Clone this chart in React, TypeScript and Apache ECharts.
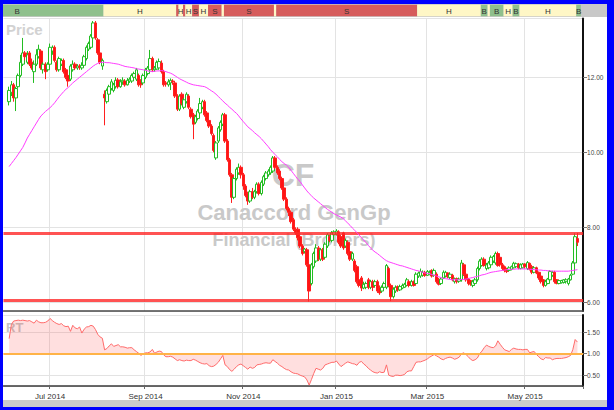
import React, { useEffect, useRef } from "react";
import * as echarts from "echarts";

// ---- Trading calendar (TSX sessions) ----
const FIRST_SESSION = "2014-06-05";
const LAST_SESSION = "2015-06-04";
const MARKET_HOLIDAYS = [
  "2014-07-01", "2014-08-04", "2014-09-01", "2014-10-13", "2014-12-25",
  "2014-12-26", "2015-01-01", "2015-02-16", "2015-04-03", "2015-05-18",
];
const LEAD_SLOTS = 2;
const TRAIL_SLOTS = 2;
const LABEL_MONTHS = [0, 2, 4, 6, 8, 10];
const MONTH_NAMES = ["Jan", "Feb", "Mar", "Apr", "May", "Jun", "Jul", "Aug", "Sep", "Oct", "Nov", "Dec"];

// ---- Daily candles: [open, close, low, high] ----
const candlesJunAug = [
  [11.35, 11.65, 11.25, 11.75], [11.6, 11.8, 11.5, 11.9], [11.8, 11.45, 11.35, 11.85], [11.45, 11.7, 11.1, 11.75], [11.75, 12.05, 11.7, 12.1],
  [12.05, 12.4, 12.0, 12.6], [12.35, 12.65, 12.3, 13.05], [12.65, 12.55, 12.45, 12.7], [12.4, 12.6, 12.35, 12.7], [12.65, 12.35, 12.3, 12.7],
  [12.4, 12.25, 12.2, 12.5], [12.15, 12.35, 11.85, 12.45], [12.35, 12.6, 12.3, 12.75], [12.55, 12.75, 12.5, 12.87], [12.7, 12.25, 12.2, 12.75],
  [12.2, 12.35, 12.1, 12.4], [12.35, 12.15, 11.95, 12.4], [12.2, 12.35, 12.15, 12.4], [12.35, 12.8, 12.3, 12.9], [12.7, 12.8, 12.6, 12.85],
  [12.8, 12.45, 12.4, 12.85], [12.4, 12.2, 12.15, 12.45], [12.2, 12.5, 12.15, 12.55], [12.35, 12.45, 12.3, 12.5], [12.45, 12.15, 12.1, 12.5],
  [12.2, 12.0, 11.95, 12.25], [12.05, 11.9, 11.75, 12.1], [11.95, 12.3, 11.9, 12.35], [12.2, 12.35, 12.15, 12.45], [12.35, 12.25, 12.2, 12.4],
  [12.25, 12.3, 12.2, 12.35], [12.3, 12.27, 12.2, 12.35], [12.25, 12.32, 12.2, 12.4], [12.32, 12.55, 12.3, 12.6], [12.5, 12.8, 12.45, 12.85],
  [12.75, 12.9, 12.7, 12.95], [12.8, 13.1, 12.75, 13.15], [13.05, 13.45, 13.0, 13.5], [13.45, 13.05, 13.0, 13.5], [13.0, 12.65, 12.6, 13.05],
  [12.65, 12.4, 12.35, 12.7], [12.3, 12.45, 12.2, 12.5], [11.55, 11.45, 10.72, 11.65], [11.35, 11.65, 11.3, 11.7], [11.55, 11.75, 11.5, 11.8],
  [11.7, 11.88, 11.65, 11.95], [11.65, 11.8, 11.6, 11.85], [11.75, 11.92, 11.7, 12.0], [11.93, 11.75, 11.7, 11.98], [11.75, 11.88, 11.72, 11.95],
  [11.88, 11.92, 11.8, 12.0], [11.9, 11.8, 11.75, 11.95], [11.8, 11.92, 11.78, 11.98], [11.9, 11.95, 11.85, 12.0], [11.9, 12.05, 11.85, 12.1],
  [12.0, 12.1, 11.95, 12.15], [11.95, 12.2, 11.9, 12.25], [12.05, 11.8, 11.75, 12.1], [11.9, 11.8, 11.72, 11.95], [11.85, 12.05, 11.8, 12.1],
];
const candlesSepOct = [
  [12.0, 12.2, 11.95, 12.25], [12.1, 12.25, 12.05, 12.3], [12.2, 12.5, 12.15, 12.73], [12.5, 12.2, 12.15, 12.55], [12.2, 12.25, 12.15, 12.3],
  [12.22, 12.4, 12.2, 12.45], [12.25, 12.42, 12.2, 12.5], [12.38, 12.15, 12.1, 12.45], [12.15, 11.8, 11.75, 12.2], [11.85, 11.82, 11.75, 11.9],
  [11.8, 11.88, 11.75, 11.95], [11.85, 11.92, 11.66, 11.97], [11.9, 11.88, 11.8, 11.95], [11.85, 11.5, 11.45, 11.9], [11.5, 11.15, 11.1, 11.55],
  [11.15, 11.5, 11.1, 11.55], [11.55, 11.3, 11.25, 11.6], [11.2, 11.4, 11.15, 11.45], [11.35, 11.55, 11.3, 11.6], [11.5, 11.2, 11.15, 11.55],
  [11.15, 10.95, 10.9, 11.2], [11.0, 10.75, 10.35, 11.05], [10.8, 10.95, 10.75, 11.0], [10.9, 11.1, 10.85, 11.15], [11.05, 11.3, 11.0, 11.45],
  [11.2, 11.35, 11.15, 11.4], [11.35, 11.0, 10.95, 11.4], [11.05, 10.85, 10.8, 11.1], [10.85, 10.7, 10.65, 10.9], [10.7, 10.5, 10.45, 10.75],
  [10.45, 10.05, 10.0, 10.5], [9.85, 10.25, 9.8, 10.3], [10.3, 10.65, 10.25, 10.7], [10.6, 10.8, 10.55, 10.85], [10.75, 11.0, 10.7, 11.05],
  [11.0, 10.3, 10.25, 11.05], [10.3, 9.8, 9.75, 10.35], [9.8, 9.4, 9.35, 9.85], [9.4, 8.8, 8.65, 9.45], [8.8, 9.3, 8.75, 9.35],
  [9.3, 9.55, 9.25, 9.6], [9.45, 9.6, 9.4, 9.7], [9.6, 9.4, 9.3, 9.65],
];
const candlesNovDec = [
  [9.4, 9.1, 9.0, 9.45], [9.1, 8.85, 8.8, 9.15], [8.9, 8.7, 8.6, 8.95], [8.7, 8.95, 8.65, 9.0], [8.95, 8.8, 8.75, 9.05],
  [8.8, 8.95, 8.75, 9.0], [8.95, 9.15, 8.9, 9.2], [9.15, 8.9, 8.85, 9.2], [8.9, 9.2, 8.85, 9.25], [9.15, 9.35, 9.1, 9.4],
  [9.3, 9.45, 9.25, 9.5], [9.4, 9.5, 9.35, 9.55], [9.45, 9.6, 9.4, 9.65], [9.5, 9.85, 9.45, 9.9], [9.85, 9.6, 9.55, 9.9],
  [9.6, 9.45, 9.4, 9.65], [9.5, 9.3, 9.25, 9.55], [9.3, 9.05, 9.0, 9.35], [9.05, 8.75, 8.7, 9.1], [8.75, 8.5, 8.45, 8.8],
  [8.5, 8.4, 8.3, 8.55], [8.4, 8.15, 8.1, 8.45], [8.2, 7.95, 7.9, 8.25], [7.95, 7.85, 7.8, 8.0], [7.95, 7.72, 7.65, 8.0],
  [7.75, 7.5, 7.45, 7.8], [7.5, 7.3, 7.25, 7.55], [7.35, 7.42, 7.3, 7.45], [7.4, 7.0, 6.95, 7.45], [7.0, 6.3, 6.02, 7.05],
  [6.5, 7.0, 6.45, 7.05], [6.95, 7.3, 6.9, 7.35], [7.1, 7.45, 7.05, 7.55], [7.45, 7.15, 7.1, 7.5], [7.15, 7.4, 7.1, 7.45],
  [7.4, 7.15, 7.1, 7.45], [7.2, 7.55, 7.15, 7.6], [7.5, 7.8, 7.45, 7.85], [7.75, 7.65, 7.6, 7.8], [7.65, 7.85, 7.6, 7.9],
  [7.8, 7.88, 7.75, 7.92],
];
const candlesJanFeb = [
  [7.82, 7.9, 7.78, 7.95], [7.88, 7.6, 7.55, 7.92], [7.75, 7.5, 7.45, 7.8], [7.85, 7.45, 7.4, 7.88], [7.5, 7.65, 7.45, 7.7],
  [7.6, 7.3, 7.25, 7.65], [7.35, 7.15, 7.1, 7.4], [7.15, 7.3, 7.1, 7.35], [7.1, 6.85, 6.8, 7.15], [6.95, 6.55, 6.5, 7.0],
  [6.6, 6.45, 6.4, 6.65], [6.65, 6.38, 6.3, 6.7], [6.38, 6.48, 6.35, 6.55], [6.4, 6.5, 6.35, 6.55], [6.6, 6.4, 6.35, 6.65],
  [6.4, 6.55, 6.35, 6.6], [6.55, 6.4, 6.3, 6.6], [6.45, 6.55, 6.4, 6.6], [6.55, 6.3, 6.25, 6.6], [6.4, 6.25, 6.2, 6.45],
  [6.3, 6.4, 6.25, 6.45], [6.4, 6.5, 6.35, 6.55], [6.4, 6.98, 6.35, 7.02], [6.9, 6.45, 6.4, 6.95], [6.45, 6.15, 6.03, 6.5],
  [6.15, 6.35, 6.1, 6.4], [6.3, 6.4, 6.25, 6.45], [6.42, 6.33, 6.28, 6.45], [6.33, 6.42, 6.3, 6.47], [6.38, 6.45, 6.35, 6.5],
  [6.4, 6.48, 6.38, 6.52], [6.45, 6.6, 6.42, 6.65], [6.55, 6.45, 6.4, 6.6], [6.45, 6.55, 6.42, 6.6], [6.55, 6.45, 6.42, 6.58],
  [6.5, 6.75, 6.48, 6.8], [6.7, 6.78, 6.65, 6.82], [6.7, 6.82, 6.65, 6.9], [6.72, 6.8, 6.68, 6.85], [6.8, 6.72, 6.68, 6.84],
];
const candlesMarJun = [
  [6.72, 6.82, 6.7, 6.86], [6.75, 6.8, 6.72, 6.85], [6.85, 6.7, 6.66, 6.88], [6.72, 6.85, 6.68, 6.9], [6.75, 6.55, 6.5, 6.8],
  [6.6, 6.48, 6.45, 6.65], [6.5, 6.62, 6.46, 6.66], [6.65, 6.8, 6.62, 6.85], [6.7, 6.8, 6.66, 6.84], [6.78, 6.68, 6.64, 6.8],
  [6.66, 6.75, 6.62, 6.8], [6.72, 6.6, 6.56, 6.76], [6.55, 6.63, 6.5, 6.66], [6.63, 6.55, 6.5, 6.66], [6.56, 6.62, 6.52, 6.66],
  [6.6, 7.05, 6.55, 7.13], [7.0, 6.75, 6.7, 7.05], [6.75, 6.6, 6.55, 6.78], [6.62, 6.5, 6.45, 6.65], [6.58, 6.48, 6.44, 6.6],
  [6.45, 6.55, 6.4, 6.6], [6.5, 6.6, 6.45, 6.65], [6.6, 6.9, 6.55, 6.95], [6.9, 7.1, 6.85, 7.15], [6.98, 7.15, 6.95, 7.2],
  [7.15, 6.98, 6.95, 7.2], [6.9, 7.0, 6.85, 7.05], [6.92, 7.05, 6.88, 7.1], [7.0, 7.2, 6.95, 7.25], [7.1, 7.22, 7.05, 7.26],
  [7.05, 7.3, 7.0, 7.35], [7.3, 6.98, 6.95, 7.35], [7.2, 7.0, 6.95, 7.25], [7.0, 6.9, 6.85, 7.05], [6.95, 6.85, 6.8, 6.98],
  [6.9, 6.82, 6.78, 6.92], [6.85, 6.92, 6.82, 6.96], [6.88, 6.95, 6.85, 6.98], [6.92, 7.04, 6.9, 7.08], [6.95, 7.03, 6.92, 7.06],
  [7.02, 6.92, 6.88, 7.05], [6.9, 7.0, 6.88, 7.04], [6.92, 7.02, 6.9, 7.05], [7.02, 6.95, 6.9, 7.04], [6.9, 7.06, 6.86, 7.1],
  [7.04, 6.88, 6.85, 7.06], [6.95, 6.8, 6.75, 7.0], [6.8, 6.92, 6.77, 6.96], [6.92, 6.78, 6.75, 6.95], [6.8, 6.65, 6.6, 6.82],
  [6.7, 6.55, 6.5, 6.72], [6.6, 6.45, 6.4, 6.62], [6.45, 6.55, 6.42, 6.6], [6.5, 6.62, 6.48, 6.65], [6.6, 6.82, 6.57, 6.86],
  [6.72, 6.8, 6.68, 6.84], [6.8, 6.55, 6.5, 6.84], [6.6, 6.5, 6.48, 6.62], [6.5, 6.58, 6.48, 6.6], [6.52, 6.58, 6.5, 6.6],
  [6.53, 6.6, 6.5, 6.62], [6.55, 6.6, 6.5, 6.64], [6.5, 6.62, 6.45, 6.65], [6.6, 6.72, 6.58, 6.76], [6.75, 7.05, 6.72, 7.1],
  [7.05, 7.75, 7.0, 7.84], [7.7, 7.6, 7.5, 7.85],
];

// ---- Moving average of price ----
const movingAvg2014 = [
  9.62, 9.70, 9.78, 9.86, 9.95, 10.04, 10.13, 10.25, 10.38, 10.48,
  10.58, 10.68, 10.78, 10.88, 10.97, 11.03, 11.09, 11.14, 11.19, 11.25,
  11.32, 11.40, 11.48, 11.55, 11.62, 11.68, 11.73, 11.79, 11.85, 11.90,
  11.95, 12.00, 12.05, 12.10, 12.15, 12.20, 12.25, 12.30, 12.34, 12.37,
  12.40, 12.40, 12.40, 12.39, 12.39, 12.38, 12.37, 12.36, 12.35, 12.33,
  12.31, 12.29, 12.28, 12.27, 12.26, 12.25, 12.23, 12.22, 12.21, 12.20,
  12.19, 12.17, 12.16, 12.15, 12.16, 12.17, 12.17, 12.18, 12.17, 12.15,
  12.13, 12.11, 12.08, 12.04, 12.00, 11.96, 11.93, 11.90, 11.87, 11.84,
  11.82, 11.80, 11.79, 11.78, 11.77, 11.76, 11.75, 11.72, 11.68, 11.64,
  11.60, 11.55, 11.49, 11.43, 11.37, 11.31, 11.26, 11.20, 11.15, 11.09,
  11.04, 10.97, 10.89, 10.82, 10.75, 10.68, 10.63, 10.58, 10.52, 10.47,
  10.42, 10.36, 10.29, 10.22, 10.15, 10.07, 10.00, 9.94, 9.88, 9.81,
  9.75, 9.70, 9.66, 9.60, 9.52, 9.44, 9.36, 9.28, 9.22, 9.13,
  9.05, 8.97, 8.90, 8.84, 8.78, 8.73, 8.68, 8.63, 8.58, 8.53,
  8.48, 8.44, 8.40, 8.36,
];
const movingAvg2015 = [
  8.33, 8.30, 8.27, 8.23, 8.17, 8.11,
  8.05, 7.98, 7.92, 7.86, 7.79, 7.72, 7.66, 7.59, 7.52, 7.45,
  7.39, 7.34, 7.30, 7.25, 7.20, 7.15, 7.11, 7.08, 7.06, 7.04,
  7.02, 7.00, 6.98, 6.97, 6.95, 6.93, 6.91, 6.89, 6.87, 6.85,
  6.84, 6.82, 6.80, 6.78, 6.77, 6.76, 6.74, 6.72, 6.70, 6.68,
  6.66, 6.64, 6.63, 6.62, 6.61, 6.60, 6.60, 6.60, 6.60, 6.61,
  6.61, 6.62, 6.63, 6.65, 6.66, 6.68, 6.69, 6.71, 6.73, 6.74,
  6.76, 6.78, 6.80, 6.81, 6.82, 6.83, 6.84, 6.85, 6.86, 6.87,
  6.88, 6.88, 6.88, 6.89, 6.89, 6.89, 6.89, 6.89, 6.89, 6.88,
  6.88, 6.87, 6.87, 6.86, 6.86, 6.85, 6.85, 6.84, 6.84, 6.83,
  6.83, 6.83, 6.83, 6.83, 6.83, 6.83, 6.83, 6.84, 6.85, 6.86, 6.87,
];

// ---- Relative strength (RT) ----
const relative2014 = [
  1.35, 1.68, 1.76, 1.77, 1.78, 1.77, 1.78, 1.77, 1.76, 1.77,
  1.74, 1.71, 1.78, 1.74, 1.72, 1.72, 1.73, 1.76, 1.82, 1.77,
  1.73, 1.70, 1.68, 1.70, 1.65, 1.63, 1.64, 1.52, 1.66, 1.60,
  1.58, 1.62, 1.48, 1.57, 1.62, 1.63, 1.66, 1.64, 1.56, 1.45,
  1.39, 1.36, 1.09, 1.12, 1.18, 1.23, 1.17, 1.19, 1.21, 1.16,
  1.16, 1.15, 1.13, 1.14, 1.14, 1.09, 1.05, 1.01, 0.96, 1.00,
  1.02, 1.02, 1.04, 1.10, 1.01, 1.04, 1.06, 1.05, 0.97, 0.93,
  0.93, 0.94, 0.92, 0.88, 0.84, 0.86, 0.84, 0.83, 0.85, 0.84,
  0.84, 0.87, 0.85, 0.82, 0.79, 0.77, 0.76, 0.77, 0.72, 0.70,
  0.71, 0.75, 0.80, 0.88, 0.96, 0.74, 0.70, 0.63, 0.59, 0.64,
  0.70, 0.74, 0.76, 0.72, 0.68, 0.64, 0.69, 0.66, 0.68, 0.74,
  0.75, 0.76, 0.78, 0.79, 0.78, 0.78, 0.86, 0.82, 0.78, 0.73,
  0.70, 0.66, 0.63, 0.62, 0.58, 0.55, 0.54, 0.53, 0.50, 0.48,
  0.46, 0.39, 0.27, 0.40, 0.54, 0.66, 0.64, 0.62, 0.66, 0.74,
  0.76, 0.78, 0.80, 0.80,
];
const relative2015 = [
  0.83, 0.76, 0.70, 0.74, 0.78, 0.81,
  0.79, 0.77, 0.76, 0.73, 0.80, 0.82, 0.76, 0.72, 0.66, 0.62,
  0.58, 0.56, 0.55, 0.58, 0.56, 0.57, 0.74, 0.50, 0.48, 0.47,
  0.50, 0.50, 0.49, 0.50, 0.52, 0.58, 0.60, 0.60, 0.70, 0.80,
  0.81, 0.81, 0.83, 0.85, 0.88, 0.92, 0.95, 0.98, 0.95, 0.92,
  0.88, 0.86, 0.89, 0.91, 0.92, 0.90, 0.87, 0.89, 0.92, 1.00,
  1.02, 0.98, 0.93, 0.87, 0.84, 0.86, 0.90, 1.00, 1.06, 1.14,
  1.20, 1.17, 1.15, 1.14, 1.18, 1.30, 1.22, 1.15, 1.09, 1.07,
  1.05, 1.10, 1.13, 1.11, 1.10, 1.10, 1.09, 1.10, 1.10, 1.02,
  1.04, 1.05, 0.98, 0.93, 0.88, 0.86, 0.91, 0.90, 0.90, 0.86,
  0.88, 0.89, 0.89, 0.89, 0.90, 0.91, 0.93, 0.96, 1.10, 1.33, 1.27,
];
const RELATIVE_BASE = 1;

// Support / resistance levels
const priceLevels = [7.83, 6.05];

// Signal bands: [first session, session after last, code]; negative = before first plotted session
const signalSpans: [number, number, string][] = [
  [-34, 42, "B"], [42, 74, "H"], [74, 75, "S"], [75, 77, "H"], [77, 78, "S"], [78, 81, "H"],
  [81, 84, "S"], [84, 88, "H"], [88, 94, "S"], [94, 95, "H"], [95, 117, "S"], [117, 118, "H"],
  [118, 180, "S"], [180, 208, "H"], [208, 211, "B"], [211, 212, "H"], [212, 218, "B"],
  [218, 222, "H"], [222, 225, "B"], [225, 250, "H"], [250, 252, "B"],
];
const SIGNAL_COLORS: Record<string, string> = { B: "#8fc08c", H: "#fff7c6", S: "#d65c5c" };

const FONT = "Liberation Sans";
const GRID_LEFT = 3.45;
const GRID_RIGHT = 30.9;

function tradingSessions(): string[] {
  const out: string[] = [];
  const start = Date.parse(FIRST_SESSION + "T00:00:00Z");
  const end = Date.parse(LAST_SESSION + "T00:00:00Z");
  for (let t = start; t <= end; t += 86400000) {
    const d = new Date(t);
    const wd = d.getUTCDay();
    if (wd === 0 || wd === 6) continue;
    const iso = d.toISOString().slice(0, 10);
    if (MARKET_HOLIDAYS.includes(iso)) continue;
    out.push(iso);
  }
  return out;
}

function buildOption() {
  const sessions = tradingSessions();
  const lead = Array.from({ length: LEAD_SLOTS }, (_, k) => `pre${k}`);
  const trail = Array.from({ length: TRAIL_SLOTS }, (_, k) => `post${k}`);
  const categories = [...lead, ...sessions, ...trail];

  const monthMarks = new Set<number>();
  sessions.forEach((d, k) => {
    if (k === 0) return;
    const m = Number(d.slice(5, 7)) - 1;
    if (sessions[k - 1].slice(0, 7) !== d.slice(0, 7) && LABEL_MONTHS.includes(m)) {
      monthMarks.add(k + LEAD_SLOTS);
    }
  });
  const isMark = (index: number) => monthMarks.has(index);

  const candles = [...candlesJunAug, ...candlesSepOct, ...candlesNovDec, ...candlesJanFeb, ...candlesMarJun];
  const movingAvg = [...movingAvg2014, ...movingAvg2015];
  const relative = [...relative2014, ...relative2015];

  const gridLine = { color: "#e3e3e3", width: 1 };

  return {
    animation: false,
    backgroundColor: "#ffffff",
    grid: [
      { left: GRID_LEFT, right: GRID_RIGHT, top: 4.5, height: 12 },
      { left: GRID_LEFT, right: GRID_RIGHT, top: 18.5, height: 292.5 },
      { left: GRID_LEFT, right: GRID_RIGHT, top: 315, height: 71 },
    ],
    xAxis: [
      {
        type: "category", gridIndex: 0, data: categories, boundaryGap: true,
        axisLine: { show: false }, axisTick: { show: false }, axisLabel: { show: false }, splitLine: { show: false },
      },
      {
        type: "category", gridIndex: 1, data: categories, boundaryGap: true,
        axisLine: { show: true, lineStyle: { color: "#4a4a4a", width: 1.5 } },
        axisTick: { show: false }, axisLabel: { show: false },
        splitLine: { show: true, interval: isMark, lineStyle: gridLine },
      },
      {
        type: "category", gridIndex: 2, data: categories, boundaryGap: true,
        axisLine: { show: true, lineStyle: { color: "#3a3a3a", width: 1.5 } },
        axisTick: { show: true, interval: isMark, length: 3, lineStyle: { color: "#666" } },
        axisLabel: {
          show: true, interval: isMark, margin: 6, fontSize: 8, fontFamily: FONT, color: "#333",
          formatter: (v: string) => `${MONTH_NAMES[Number(v.slice(5, 7)) - 1]} ${v.slice(0, 4)}`,
        },
        splitLine: { show: true, interval: isMark, lineStyle: gridLine },
      },
    ],
    yAxis: [
      { type: "value", gridIndex: 0, min: 0, max: 1, show: false },
      {
        type: "value", gridIndex: 1, position: "right", min: 5.768, max: 13.568, splitNumber: 4,
        axisLine: { show: true, lineStyle: { color: "#111", width: 2 } },
        axisTick: { show: true, length: 4, lineStyle: { color: "#777" } },
        axisLabel: {
          show: true, showMinLabel: false, showMaxLabel: false, margin: 4,
          fontSize: 6.5, fontFamily: FONT, color: "#444",
          formatter: (v: number) => v.toFixed(2),
        },
        splitLine: { show: true, lineStyle: gridLine },
      },
      {
        type: "value", gridIndex: 2, position: "right", min: 0.249, max: 1.9, splitNumber: 3,
        axisLine: { show: true, lineStyle: { color: "#111", width: 2 } },
        axisTick: { show: true, length: 4, lineStyle: { color: "#777" } },
        axisLabel: {
          show: true, showMinLabel: false, showMaxLabel: false, margin: 4,
          fontSize: 6.5, fontFamily: FONT, color: "#444",
          formatter: (v: number) => v.toFixed(2),
        },
        splitLine: { show: true, lineStyle: gridLine },
      },
    ],
    series: [
      {
        type: "custom",
        xAxisIndex: 0,
        yAxisIndex: 0,
        clip: true,
        silent: true,
        data: signalSpans.map((s, k) => [s[0] + LEAD_SLOTS, s[1] - 1 + LEAD_SLOTS, k]),
        encode: { x: [0, 1] },
        renderItem: (params: any, api: any) => {
          const k = api.value(2);
          const code = signalSpans[k][2];
          const bw = api.size([1, 0])[0];
          const x0 = api.coord([api.value(0), 0])[0] - bw / 2;
          const x1 = api.coord([api.value(1), 0])[0] + bw / 2;
          const top = params.coordSys.y;
          const h = params.coordSys.height;
          const children: any[] = [
            { type: "rect", shape: { x: x0, y: top, width: x1 - x0, height: h }, style: { fill: SIGNAL_COLORS[code] } },
          ];
          if (x1 - x0 >= 4) {
            children.push({
              type: "text",
              style: {
                text: code, x: (x0 + x1) / 2, y: top + h / 2 + 0.5, align: "center", verticalAlign: "middle",
                fontSize: 8, fontFamily: FONT, fill: "#333",
              },
            });
          }
          return { type: "group", children };
        },
      },
      {
        type: "candlestick",
        xAxisIndex: 1,
        yAxisIndex: 1,
        z: 4,
        barWidth: 3,
        data: candles.map((c, k) => [k + LEAD_SLOTS, c[0], c[1], c[2], c[3]]),
        encode: { x: 0, y: [1, 2, 3, 4] },
        itemStyle: {
          color: "#ffffff", color0: "#ff1414",
          borderColor: "#22bd22", borderColor0: "#ff1f1f", borderWidth: 1,
        },
        markLine: {
          silent: true,
          symbol: "none",
          label: { show: false },
          lineStyle: { color: "rgba(255,40,40,0.8)", width: 3, type: "solid" },
          data: priceLevels.map((v) => ({ yAxis: v })),
        },
      },
      {
        type: "line",
        xAxisIndex: 1,
        yAxisIndex: 1,
        z: 5,
        showSymbol: false,
        symbol: "none",
        data: movingAvg.map((v, k) => [k + LEAD_SLOTS, v]),
        lineStyle: { color: "#ff3cff", width: 1 },
      },
      {
        type: "line",
        xAxisIndex: 2,
        yAxisIndex: 2,
        z: 3,
        showSymbol: false,
        symbol: "none",
        data: relative.map((v, k) => [k + LEAD_SLOTS, v]),
        lineStyle: { color: "#ff6a6a", width: 1 },
        areaStyle: { color: "rgba(255,80,80,0.26)", origin: RELATIVE_BASE },
        markLine: {
          silent: true,
          symbol: "none",
          label: { show: false },
          lineStyle: { color: "#ffb347", width: 2, type: "solid" },
          data: [{ yAxis: RELATIVE_BASE }],
        },
      },
    ],
    graphic: {
      elements: [
        // signal strip backing and bottom strip
        { type: "rect", z: 0, silent: true, shape: { x: 3, y: 4, width: 604, height: 13 }, style: { fill: "#c8c8c8" } },
        { type: "rect", z: 0, silent: true, shape: { x: 3, y: 400, width: 604, height: 7 }, style: { fill: "#cbcbcb" } },
        // panel titles
        {
          type: "text", z: 1, silent: true, x: 6, y: 29,
          style: { text: "Price", fontSize: 15, fontWeight: "bold", fontFamily: FONT, fill: "#d2d2d2", verticalAlign: "middle" },
        },
        {
          type: "text", z: 1, silent: true, x: 6, y: 327,
          style: { text: "RT", fontSize: 13, fontWeight: "bold", fontFamily: FONT, fill: "#c4c4c4", verticalAlign: "middle" },
        },
        // security watermark
        {
          type: "text", z: 1, silent: true, x: 293, y: 175,
          style: { text: "CF", fontSize: 32, fontWeight: "bold", fontFamily: FONT, fill: "#c9c9c9", align: "center", verticalAlign: "middle" },
        },
        {
          type: "text", z: 1, silent: true, x: 294, y: 212,
          style: { text: "Canaccord GenGp", fontSize: 22, fontWeight: "bold", fontFamily: FONT, fill: "#c9c9c9", align: "center", verticalAlign: "middle" },
        },
        {
          type: "text", z: 1, silent: true, x: 294, y: 240,
          style: { text: "Financial (Brokers)", fontSize: 18, fontWeight: "bold", fontFamily: FONT, fill: "#c9c9c9", align: "center", verticalAlign: "middle" },
        },
        // frame
        { type: "rect", z: 100, silent: true, shape: { x: 0, y: 0, width: 3, height: 410 }, style: { fill: "#0000ff" } },
        { type: "rect", z: 100, silent: true, shape: { x: 0, y: 0, width: 614, height: 4 }, style: { fill: "#0000ff" } },
        { type: "rect", z: 100, silent: true, shape: { x: 607, y: 0, width: 7, height: 410 }, style: { fill: "#0000ff" } },
        { type: "rect", z: 100, silent: true, shape: { x: 0, y: 407, width: 614, height: 3 }, style: { fill: "#0000ff" } },
      ],
    },
  };
}

export default function App() {
  const ref = useRef<HTMLDivElement>(null);
  useEffect(() => {
    document.body.style.margin = "0";
    if (!ref.current) return;
    const chart = echarts.init(ref.current, null, { renderer: "svg" });
    chart.setOption(buildOption() as any);
    return () => chart.dispose();
  }, []);
  return <div ref={ref} style={{ width: 614, height: 410 }} />;
}
